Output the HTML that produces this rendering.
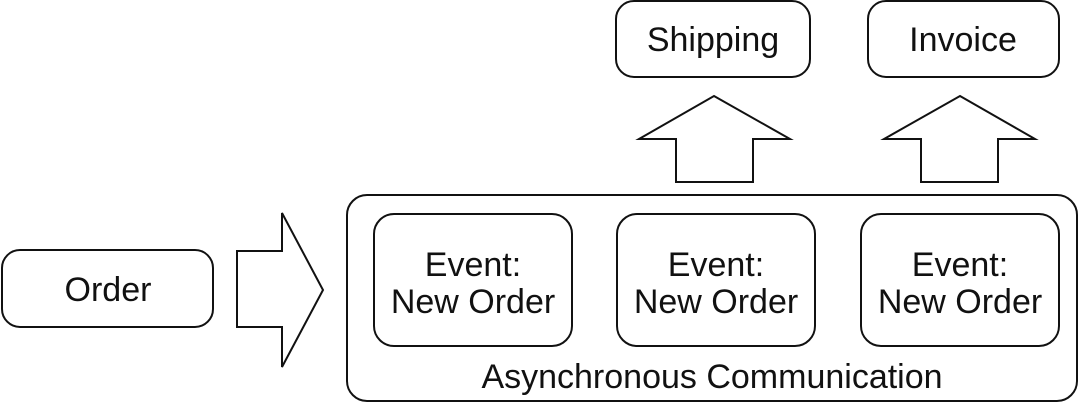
<!DOCTYPE html>
<html><head><style>
html,body{margin:0;padding:0;background:#fff;}
body{width:1086px;height:404px;overflow:hidden;}
svg text{font-family:"Liberation Sans",sans-serif;fill:#111;}
</style></head><body>
<svg width="1086" height="404" viewBox="0 0 1086 404" xmlns="http://www.w3.org/2000/svg">
<g fill="none" stroke="#111" stroke-width="2">
<rect x="616" y="1" width="194" height="76" rx="18"/>
<rect x="868" y="1" width="191" height="76" rx="18"/>
<polygon points="714,96 790,139 753,139 753,182 676,182 676,139 639,139"/>
<polygon points="960,96 1035,139 998,139 998,182 921,182 921,139 884,139"/>
<rect x="2" y="250" width="211" height="77" rx="18"/>
<polygon points="237,251 282,251 282,213 323,290 282,367 282,327 237,327"/>
<rect x="347" y="195" width="730" height="206" rx="20"/>
<rect x="374" y="214" width="198" height="132" rx="20"/>
<rect x="617" y="214" width="198" height="132" rx="20"/>
<rect x="861" y="214" width="198" height="132" rx="20"/>
</g>
<g font-size="34" text-anchor="middle">
<text x="713" y="51">Shipping</text>
<text x="963" y="51">Invoice</text>
<text x="108" y="301">Order</text>
<text x="473" y="276">Event:</text>
<text x="473" y="313">New Order</text>
<text x="716" y="276">Event:</text>
<text x="716" y="313">New Order</text>
<text x="960" y="276">Event:</text>
<text x="960" y="313">New Order</text>
<text x="712" y="388">Asynchronous Communication</text>
</g>
</svg>
</body></html>
